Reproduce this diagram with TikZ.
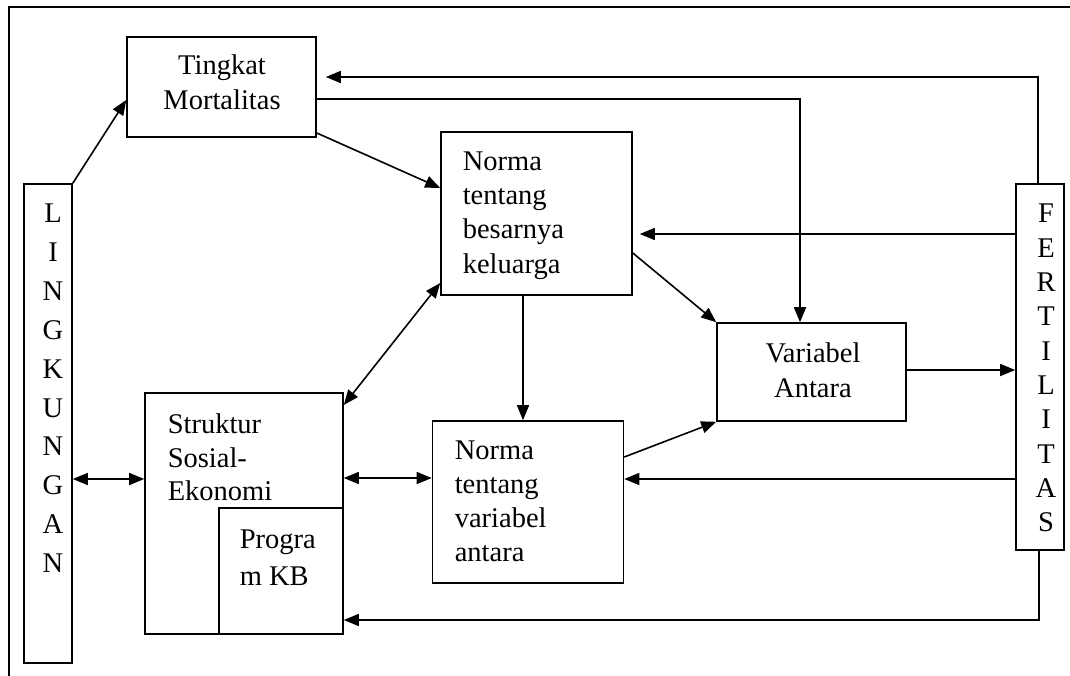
\documentclass[tikz,border=0pt]{standalone}
\usepackage{fontspec}
\setmainfont{Liberation Serif}
\usetikzlibrary{arrows.meta}
\begin{document}
\begin{tikzpicture}[x=1pt,y=-1pt,
  line width=1.6pt,
  box/.style={draw, rectangle, inner sep=0pt, line width=1.6pt},
  txt/.style={inner sep=0pt, font=\fontsize{28.5}{34}\selectfont},
  arr/.style={-{Triangle[length=15pt,width=12pt]}},
  darr/.style={{Triangle[length=15pt,width=12pt]}-{Triangle[length=15pt,width=12pt]}}
]
\useasboundingbox (0,0) rectangle (1070,676);
% outer frame (cropped)
\draw[line width=1.4pt] (9,676) -- (9,7) -- (1070,7);

% boxes
\node[box, minimum width=48pt,  minimum height=479pt] (ling) at (48,423.5) {};
\node[box, minimum width=189pt, minimum height=100pt] (tm)   at (221.5,87) {};
\node[box, minimum width=191pt, minimum height=163pt] (nb)   at (536.5,213.5) {};
\node[box, minimum width=189pt, minimum height=98pt]  (va)   at (811.5,372) {};
\node[box, minimum width=48pt,  minimum height=366pt] (fert) at (1040,367) {};
\node[box, minimum width=198pt, minimum height=241pt] (ss)   at (244,513.5) {};
\node[box, minimum width=124pt, minimum height=126pt] (kb)   at (281,571) {};
\node[box, minimum width=191pt, minimum height=162pt] (nv)   at (528,502) {};

% vertical letter stacks
\foreach \l [count=\i from 0] in {L,I,N,G,K,U,N,G,A,N}
  \node[txt, anchor=base] (lg\i) at (53,223+38.8*\i) {\l};
\foreach \l [count=\i from 0] in {F,E,R,T,I,L,I,T,A,S}
  \node[txt, anchor=base] (ft\i) at (1046,223+34.3*\i) {\l};

% centred lines
\foreach \t/\x/\y [count=\i] in {Tingkat/222/75, Mortalitas/222/110, Variabel/813/362, Antara/813/397}
  \node[txt, anchor=base] (c\i) at (\x,\y) {\t};
% left-aligned lines
\foreach \t/\x/\y [count=\i] in {Norma/462/171, tentang/462/205, besarnya/462/239, keluarga/462/273,
  Struktur/167/433, Sosial-/167/467, Ekonomi/167/500, Progra/239/548, m KB/239/585,
  Norma/454/459, tentang/454/493, variabel/454/527, antara/454/561}
  \node[txt, anchor=base west] (w\i) at (\x,\y) {\t};

% connectors
\draw[arr] (ling.north east) -- (tm.west |- 0,100);
\draw[arr] (tm.east |- 0,133) -- (nb.west |- 0,188);
\draw[arr] (tm.east |- 0,99) -| (va.north -| 800,0);
\draw[arr, shorten >=9pt] (fert.north -| 1038,0) |- (tm.east |- 0,77);
\draw[arr, shorten >=7pt] (fert.west |- 0,234) -- (nb.east |- 0,234);
\draw[arr] (nb.east |- 0,253) -- (va.north west);
\draw[arr] (nb.south -| 523,0) -- (nv.north -| 523,0);
\draw[arr] (va.east |- 0,370) -- (fert.west |- 0,370);
\draw[arr] (nv.east |- 0,457) -- (va.south west);
\draw[arr] (fert.west |- 0,479) -- (nv.east |- 0,479);
\draw[darr] (nb.west |- 0,283) -- (ss.east |- 0,405);
\draw[darr] (ss.east |- 0,478) -- (nv.west |- 0,478);
\draw[darr] (ling.east |- 0,479) -- (ss.west |- 0,479);
\draw[arr] (fert.south -| 1039,0) |- (ss.east |- 0,620);
\end{tikzpicture}
\end{document}
